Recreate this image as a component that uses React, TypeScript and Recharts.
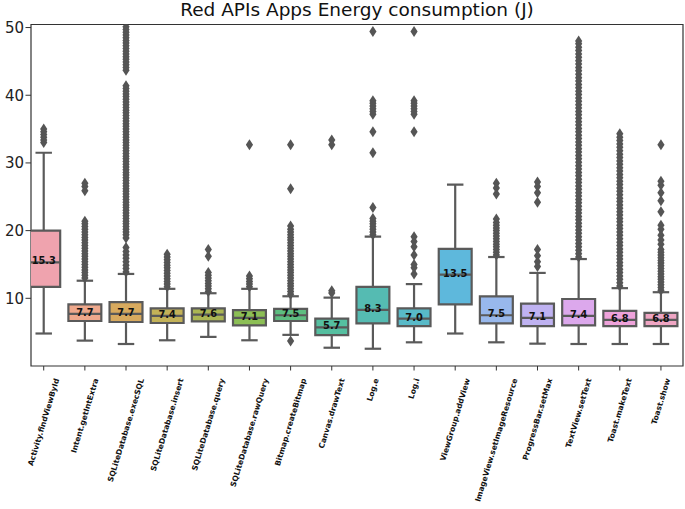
import React from "react";
import { ComposedChart, ReferenceArea, ReferenceLine, Scatter, XAxis, YAxis } from "recharts";

const apis = [
  "Activity.findViewById",
  "Intent.getIntExtra",
  "SQLiteDatabase.execSQL",
  "SQLiteDatabase.insert",
  "SQLiteDatabase.query",
  "SQLiteDatabase.rawQuery",
  "Bitmap.createBitmap",
  "Canvas.drawText",
  "Log.e",
  "Log.i",
  "ViewGroup.addView",
  "ImageView.setImageResource",
  "ProgressBar.setMax",
  "TextView.setText",
  "Toast.makeText",
  "Toast.show",
];

const lowerWhisker = [4.8, 3.75, 3.25, 3.8, 4.3, 3.8, 4.6, 2.7, 2.55, 3.5, 4.8, 3.5, 3.3, 3.25, 3.25, 3.25];
const q1 = [11.7, 6.65, 6.5, 6.35, 6.6, 6.0, 6.65, 4.55, 6.3, 5.9, 9.1, 6.3, 5.9, 6.0, 5.9, 5.9];
const medians = [15.3, 7.7, 7.7, 7.4, 7.6, 7.1, 7.5, 5.7, 8.3, 7.0, 13.5, 7.5, 7.1, 7.4, 6.8, 6.8];
const q3 = [20.0, 9.1, 9.45, 8.5, 8.5, 8.25, 8.45, 7.0, 11.7, 8.5, 17.3, 10.3, 9.2, 9.9, 8.15, 7.85];
const upperWhisker = [31.5, 12.6, 13.6, 11.4, 10.75, 11.4, 10.3, 10.1, 19.1, 12.1, 26.8, 16.1, 13.75, 15.8, 11.5, 10.9];

const fills = [
  "#efa3ae", "#eea88c", "#d8aa5e", "#c3b258", "#abb653", "#8cbf55", "#5dbe80", "#55bfa0",
  "#55bbb2", "#58bac8", "#5eb8dc", "#98b8ec", "#bfb2f1", "#dca8ec", "#eea2da", "#efa5c3",
];

const outliers: number[][] = [
  [33.0, 33.4, 33.8, 34.2, 34.6, 35.0],
  [13.0, 13.4, 13.8, 14.2, 14.6, 15.0, 15.4, 15.8, 16.2, 16.6, 17.0, 17.4, 17.8, 18.2, 18.6, 19.0, 19.4, 19.8, 20.2, 20.6, 21.0, 21.4, 25.9, 26.5, 27.0],
  [13.9, 14.4, 14.9, 15.4, 15.9, 16.4, 16.9, 17.5, 18.9, 19.4, 19.8, 20.2, 20.6, 21.0, 21.4, 21.8, 22.2, 22.6, 23.0, 23.4, 23.8, 24.2, 24.6, 25.0, 25.4, 25.8, 26.2, 26.6, 27.0, 27.4, 27.8, 28.2, 28.6, 29.0, 29.4, 29.8, 30.2, 30.6, 31.0, 31.4, 31.8, 32.2, 32.6, 33.0, 33.4, 33.8, 34.2, 34.6, 35.0, 35.4, 35.8, 36.2, 36.6, 37.0, 37.4, 37.8, 38.2, 38.6, 39.0, 39.4, 39.8, 40.2, 40.6, 41.0, 41.4, 43.7, 44.1, 44.5, 44.9, 45.3, 45.7, 46.1, 46.5, 46.9, 47.3, 47.7, 48.1, 48.5, 48.9, 49.3, 49.7, 50.1],
  [11.7, 12.1, 12.5, 12.9, 13.3, 13.7, 14.1, 14.5, 14.9, 15.3, 15.7, 16.1, 16.5],
  [11.0, 11.4, 11.8, 12.2, 12.6, 13.0, 13.4, 13.8, 16.2, 17.2],
  [11.7, 12.1, 12.5, 12.9, 13.3, 32.7],
  [3.7, 10.6, 11.0, 11.4, 11.8, 12.2, 12.6, 13.0, 13.4, 13.8, 14.2, 14.6, 15.0, 15.4, 15.8, 16.2, 16.6, 17.0, 17.4, 17.8, 18.2, 18.6, 19.0, 19.4, 19.8, 20.2, 20.7, 26.2, 32.7],
  [10.8, 11.1, 32.7, 33.4],
  [19.4, 19.8, 20.2, 20.6, 21.0, 21.4, 21.8, 23.4, 31.5, 34.6, 37.2, 37.6, 38.0, 38.4, 38.8, 39.2, 49.4],
  [13.6, 14.5, 15.0, 16.4, 17.6, 18.4, 19.1, 34.6, 37.2, 37.6, 38.0, 38.4, 38.8, 39.2, 49.4],
  [],
  [16.4, 16.8, 17.2, 17.6, 18.0, 18.4, 18.8, 19.2, 19.6, 20.0, 20.4, 20.8, 21.2, 21.7, 25.4, 26.3, 27.0],
  [14.7, 15.4, 16.3, 17.2, 24.2, 25.6, 26.5, 27.2],
  [16.1, 16.6, 17.1, 17.6, 18.1, 18.6, 19.1, 19.6, 20.1, 20.6, 21.1, 21.6, 22.1, 22.6, 23.1, 23.6, 24.1, 24.6, 25.1, 25.6, 26.1, 26.6, 27.1, 27.6, 28.1, 28.6, 29.1, 29.6, 30.1, 30.6, 31.1, 31.6, 32.1, 32.6, 33.1, 33.6, 34.1, 34.6, 35.1, 35.6, 36.1, 36.6, 37.1, 37.6, 38.1, 38.6, 39.1, 39.6, 40.1, 40.6, 41.1, 41.6, 42.1, 42.6, 43.1, 43.6, 44.1, 44.6, 45.1, 45.6, 46.1, 46.6, 47.1, 47.6, 48.0],
  [11.8, 12.3, 12.8, 13.3, 13.8, 14.3, 14.8, 15.3, 15.8, 16.3, 16.8, 17.3, 17.8, 18.3, 18.8, 19.3, 19.8, 20.3, 20.8, 21.3, 21.8, 22.3, 22.8, 23.3, 23.8, 24.3, 24.8, 25.3, 25.8, 26.3, 26.8, 27.3, 27.8, 28.3, 28.8, 29.3, 29.8, 30.3, 30.8, 31.3, 31.8, 32.3, 32.8, 33.3, 33.8, 34.3],
  [11.2, 11.6, 12.0, 12.4, 12.8, 13.2, 13.6, 14.0, 14.4, 14.8, 15.2, 15.6, 16.0, 16.4, 16.8, 17.2, 18.0, 18.6, 19.3, 20.2, 20.8, 22.8, 24.4, 25.6, 26.7, 27.3, 32.7],
];

const yTicks = [10, 20, 30, 40, 50];
const xDomain: [number, number] = [-0.309, 15.536];
const yDomain: [number, number] = [0, 50.45];

const LINE = "#5a5a5a";
const FONT = "'DejaVu Sans', sans-serif";
const LABEL_SIZE = 7.6;

let ctx: CanvasRenderingContext2D | null = null;
function textWidth(s: string) {
  if (!ctx) ctx = document.createElement("canvas").getContext("2d");
  if (!ctx) return s.length * 4.8;
  ctx.font = `bold ${LABEL_SIZE}px 'DejaVu Sans'`;
  return ctx.measureText(s).width;
}

function XTick({ x, y, payload }: any) {
  const label = apis[payload.value];
  if (!label) return null;
  const th = (73 * Math.PI) / 180;
  const L = textWidth(label);
  const H = L * Math.sin(th) + LABEL_SIZE * Math.cos(th);
  const cy = y + 7 + H / 2;
  return (
    <text
      x={x}
      y={cy}
      transform={`rotate(-73, ${x}, ${cy})`}
      textAnchor="middle"
      dominantBaseline="central"
      fontFamily={FONT}
      fontWeight="bold"
      fontSize={LABEL_SIZE}
      fill="#111"
    >
      {label}
    </text>
  );
}

function Diamond({ cx, cy }: any) {
  if (cx == null || cy == null) return null;
  return <polygon points={`${cx},${cy - 5.5} ${cx + 3.6},${cy} ${cx},${cy + 5.5} ${cx - 3.6},${cy}`} fill="#555" />;
}

function MedianLabel({ cx, cy, payload }: any) {
  if (cx == null || cy == null) return null;
  return (
    <text x={cx} y={cy + 2} textAnchor="middle" fontFamily={FONT} fontWeight="bold" fontSize={9.8} fill="#111">
      {payload.label}
    </text>
  );
}

export default function App() {
  const outlierPoints = outliers.flatMap((vals, i) => vals.map((v) => ({ x: i, y: v })));
  const medianPoints = medians.map((m, i) => ({ x: i, y: m, label: m.toFixed(1) }));

  return (
    <div style={{ position: "absolute", left: 0, top: 0, width: 685, height: 509, background: "#fff" }}>
      <ComposedChart width={685} height={509} margin={{ top: 24.5, right: 2, left: 0, bottom: 0 }}>
        <XAxis
          type="number"
          dataKey="x"
          domain={xDomain}
          allowDataOverflow
          ticks={apis.map((_, i) => i)}
          interval={0}
          height={143}
          axisLine={false}
          tickLine={{ stroke: "#333" }}
          tickSize={4.5}
          tickMargin={0}
          tick={<XTick />}
        />
        <YAxis
          type="number"
          dataKey="y"
          domain={yDomain}
          allowDataOverflow
          ticks={yTicks}
          width={31}
          axisLine={false}
          tickLine={{ stroke: "#333" }}
          tickSize={5.5}
          tickMargin={1.5}
          tick={{ fontFamily: FONT, fontSize: 15, fill: "#222" }}
        />
        <ReferenceArea
          x1={xDomain[0]}
          x2={xDomain[1]}
          y1={yDomain[0]}
          y2={yDomain[1]}
          fill="none"
          stroke="#333"
          strokeWidth={1.2}
          ifOverflow="visible"
        />
        {apis.map((name, i) => (
          <ReferenceArea
            key={`box-${name}`}
            x1={i - 0.4}
            x2={i + 0.4}
            y1={q1[i]}
            y2={q3[i]}
            fill={fills[i]}
            fillOpacity={1}
            stroke={LINE}
            strokeWidth={2.2}
            ifOverflow="hidden"
          />
        ))}
        {apis.map((name, i) => (
          <React.Fragment key={`lines-${name}`}>
            <ReferenceLine
              segment={[{ x: i - 0.4, y: medians[i] }, { x: i + 0.4, y: medians[i] }]}
              stroke={LINE}
              strokeWidth={2.2}
              ifOverflow="hidden"
            />
            <ReferenceLine
              segment={[{ x: i, y: q3[i] }, { x: i, y: upperWhisker[i] }]}
              stroke={LINE}
              strokeWidth={2.2}
              ifOverflow="hidden"
            />
            <ReferenceLine
              segment={[{ x: i, y: q1[i] }, { x: i, y: lowerWhisker[i] }]}
              stroke={LINE}
              strokeWidth={2.2}
              ifOverflow="hidden"
            />
            <ReferenceLine
              segment={[{ x: i - 0.2, y: upperWhisker[i] }, { x: i + 0.2, y: upperWhisker[i] }]}
              stroke={LINE}
              strokeWidth={2.2}
              ifOverflow="hidden"
            />
            <ReferenceLine
              segment={[{ x: i - 0.2, y: lowerWhisker[i] }, { x: i + 0.2, y: lowerWhisker[i] }]}
              stroke={LINE}
              strokeWidth={2.2}
              ifOverflow="hidden"
            />
          </React.Fragment>
        ))}
        <Scatter data={outlierPoints} dataKey="y" shape={<Diamond />} isAnimationActive={false} />
        <Scatter data={medianPoints} dataKey="y" shape={<MedianLabel />} isAnimationActive={false} />
      </ComposedChart>
      <svg
        width={685}
        height={24}
        style={{ position: "absolute", left: 0, top: 0, zIndex: 2, pointerEvents: "none" }}
      >
        <text x={357} y={16} textAnchor="middle" fontFamily={FONT} fontSize={18.5} fill="#111">
          Red APIs Apps Energy consumption (J)
        </text>
      </svg>
    </div>
  );
}
